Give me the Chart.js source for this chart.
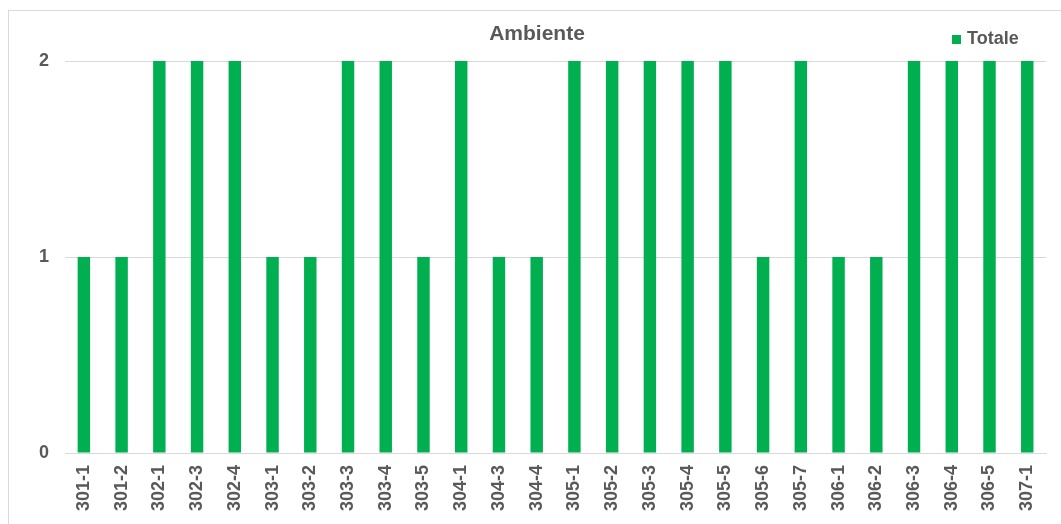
<!DOCTYPE html>
<html>
<head>
<meta charset="utf-8">
<script src="https://cdn.jsdelivr.net/npm/chart.js@4/dist/chart.umd.min.js"></script>
<style>
  html, body { margin: 0; padding: 0; background: #fff; overflow: hidden; }
  #frame { position: absolute; left: 8px; top: 10px; width: 1080px; height: 540px; border: 1px solid #d9d9d9; box-sizing: border-box; }
  #c { position: absolute; left: 0; top: 0; }
</style>
</head>
<body>
<div id="frame"></div>
<canvas id="c" width="1061" height="524"></canvas>
<script>
const categories = ["301-1","301-2","302-1","302-3","302-4","303-1","303-2","303-3","303-4","303-5","304-1","304-3","304-4","305-1","305-2","305-3","305-4","305-5","305-6","305-7","306-1","306-2","306-3","306-4","306-5","307-1"];
const totale = [1,1,2,2,2,1,1,2,2,1,2,1,1,2,2,2,2,2,1,2,1,1,2,2,2,2];
const yTicks = [0, 1, 2];
const chartTitle = "Ambiente";
const seriesName = "Totale";

const GREEN = "#00B050";
const TEXT = "#595959";
const FONT = "'Liberation Sans', Arial, sans-serif";

// Title and legend drawn on top of the chart
const headerPlugin = {
  id: "header",
  afterDraw(chart) {
    const ctx = chart.ctx;
    ctx.save();
    ctx.fillStyle = TEXT;
    ctx.font = "bold 21px " + FONT;
    ctx.textAlign = "center";
    ctx.textBaseline = "middle";
    ctx.fillText(chartTitle, 537, 34);
    ctx.fillStyle = GREEN;
    ctx.fillRect(952, 35, 9, 9);
    ctx.fillStyle = TEXT;
    ctx.font = "bold 18px " + FONT;
    ctx.textAlign = "left";
    ctx.fillText(seriesName, 967, 39.5);
    ctx.restore();
  }
};

new Chart(document.getElementById("c"), {
  type: "bar",
  data: {
    labels: categories,
    datasets: [{
      label: seriesName,
      data: totale,
      backgroundColor: GREEN,
      borderWidth: 0,
      categoryPercentage: 1,
      barPercentage: 0.33
    }]
  },
  options: {
    responsive: false,
    animation: false,
    layout: { padding: { left: 0, right: 8, top: 61, bottom: 0 } },
    plugins: { legend: { display: false }, title: { display: false }, tooltip: { enabled: false } },
    scales: {
      x: {
        grid: { display: false, drawTicks: false },
        border: { display: true, color: "#d9d9d9", width: 1 },
        ticks: {
          color: TEXT,
          font: { family: FONT, size: 18, weight: "bold" },
          minRotation: 90, maxRotation: 90,
          padding: 12,
          autoSkip: false
        },
        afterFit(s) { s.height = 71; }
      },
      y: {
        min: 0, max: 2,
        afterBuildTicks(s) { s.ticks = yTicks.map(v => ({ value: v })); },
        grid: { color: "#d9d9d9", lineWidth: 1, drawTicks: false },
        border: { display: false },
        ticks: {
          color: TEXT,
          font: { family: FONT, size: 18, weight: "bold" },
          padding: 16
        },
        afterFit(s) { s.width = 65; }
      }
    }
  },
  plugins: [headerPlugin]
});
</script>
</body>
</html>
